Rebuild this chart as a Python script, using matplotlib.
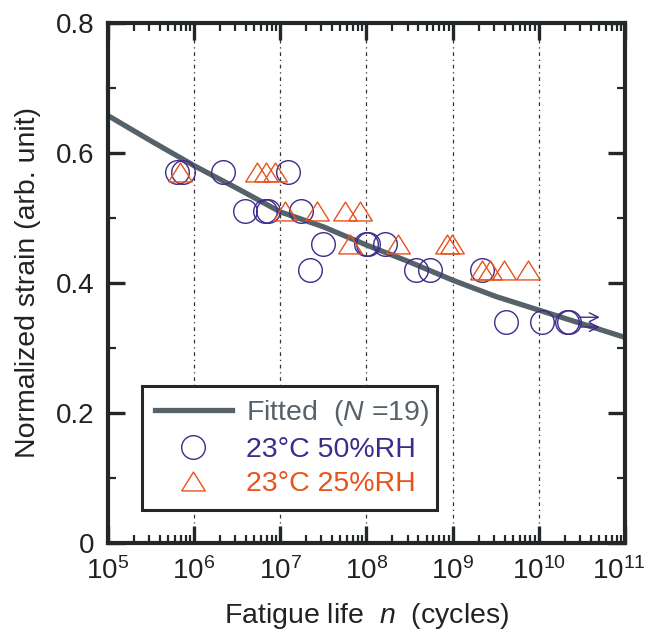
import numpy as np
import matplotlib
matplotlib.use("Agg")
import matplotlib.pyplot as plt
import matplotlib.transforms as mtransforms
from matplotlib.ticker import FuncFormatter, LogLocator, MultipleLocator, NullFormatter

plt.rcParams['font.family'] = ['Liberation Sans', 'DejaVu Sans']
plt.rcParams['mathtext.fontset'] = 'custom'
plt.rcParams['mathtext.rm'] = 'Liberation Sans'
plt.rcParams['mathtext.it'] = 'Liberation Sans:italic'

# fitted curve
fit_n = [1e5, 10**5.5, 1e6, 10**6.5, 1e7, 10**7.5, 1e8, 10**8.5, 1e9, 10**9.5, 1e10, 10**10.5, 1e11]
fit_s = [0.657, 0.618, 0.580, 0.545, 0.509, 0.486, 0.458, 0.432, 0.404, 0.379, 0.358, 0.337, 0.316]

# 23C 50%RH (circles)
rh50_n = [6.4e5, 7.4e5, 2.15e6, 1.22e7,
          3.9e6, 6.6e6, 7.3e6, 1.72e7,
          3.1e7, 9.8e7, 1.05e8, 1.65e8,
          2.24e7, 3.8e8, 5.4e8, 2.2e9,
          4.2e9, 1.08e10, 2.1e10, 2.24e10]
rh50_s = [0.57, 0.57, 0.57, 0.57,
          0.51, 0.51, 0.51, 0.51,
          0.46, 0.46, 0.46, 0.46,
          0.42, 0.42, 0.42, 0.42,
          0.34, 0.34, 0.34, 0.34]

# 23C 25%RH (triangles)
rh25_n = [6.8e5, 5.4e6, 6.9e6, 8.6e6,
          1.15e7, 2.65e7, 5.6e7, 8.4e7,
          6.5e7, 2.35e8, 8.5e8, 9.9e8,
          2.2e9, 2.7e9, 3.9e9, 7.4e9]
rh25_s = [0.57, 0.57, 0.57, 0.57,
          0.51, 0.51, 0.51, 0.51,
          0.46, 0.46, 0.46, 0.46,
          0.42, 0.42, 0.42, 0.42]

# run-out arrows
arrow_start = [3.0e10, 3.0e10]
arrow_end = [5.1e10, 5.1e10]
arrow_s = [0.347, 0.332]

fit_color = "#56626a"
purple = "#3f2a8c"
orange = "#e8531c"
dark = "#232729"

fig = plt.figure(figsize=(6.5, 6.34), dpi=100)
ax = fig.add_axes([0.166, 0.1435, 0.7955, 0.821])

ax.set_xscale("log")
ax.set_xlim(1e5, 1e11)
ax.set_ylim(0, 0.8)

for x in [1e6, 1e7, 1e8, 1e9, 1e10]:
    ax.axvline(x, color="#333333", lw=0.9, ls=(0, (3, 3, 1, 3)), zorder=1)

ax.plot(fit_n, fit_s, color=fit_color, lw=3.8, zorder=2,
        label="Fitted  ($N$ =19)")

ax.plot(rh50_n, rh50_s, ls="none", marker="o", ms=17, mfc="none",
        mec=purple, mew=1.0, zorder=3, label="23°C 50%RH")

tri = [(-1, -0.8), (1, -0.8), (0, 0.8), (-1, -0.8)]
ax.plot(rh25_n, rh25_s, ls="none", marker=tri, ms=17, mfc="none",
        mec=orange, mew=1.0, zorder=3, label="23°C 25%RH")

for x0, x1, y in zip(arrow_start, arrow_end, arrow_s):
    ax.annotate("", xy=(x1, y), xytext=(x0, y),
                arrowprops=dict(arrowstyle="->", color=purple, lw=1.0,
                                shrinkA=0, shrinkB=0, mutation_scale=16))

ax.xaxis.set_major_locator(LogLocator(base=10, numticks=10))
ax.xaxis.set_minor_locator(LogLocator(base=10, subs=np.arange(2, 10), numticks=20))
ax.xaxis.set_minor_formatter(NullFormatter())
ax.yaxis.set_major_locator(MultipleLocator(0.2))
ax.yaxis.set_minor_locator(MultipleLocator(0.1))
ax.yaxis.set_major_formatter(FuncFormatter(lambda v, p: "0" if abs(v) < 1e-9 else f"{v:.1f}"))

ax.tick_params(which="both", direction="in", top=True, right=True, colors=dark,
               labelcolor="#222222", labelsize=20)
ax.tick_params(which="major", length=12, width=2.4, pad=10)
ax.tick_params(which="minor", length=6, width=1.6)

for sp in ax.spines.values():
    sp.set_linewidth(3)
    sp.set_color(dark)

ax.set_xlabel("Fatigue life  $n$  (cycles)", fontsize=20.5, color="#222222", labelpad=12)
ax.set_ylabel("Normalized strain (arb. unit)", fontsize=20.5, color="#222222", labelpad=10)

leg = ax.legend(loc="lower left", bbox_to_anchor=(0.066, 0.063, 0.571, 0.26),
                mode="expand", fontsize=20.5, handlelength=2.7, handletextpad=0.5,
                labelspacing=0.3, borderpad=0.45, borderaxespad=0, fancybox=False,
                framealpha=1, labelcolor=[fit_color, purple, orange])
leg.get_frame().set_edgecolor(dark)
leg.get_frame().set_linewidth(2.2)

# nudge the 10^11 label so it stays inside the figure
fig.canvas.draw()
shift = mtransforms.ScaledTranslation(-6 / 100, 0, fig.dpi_scale_trans)
for tick in ax.xaxis.get_major_ticks():
    if np.isclose(tick.get_loc(), 1e11):
        tick.label1.set_transform(tick.label1.get_transform() + shift)

plt.savefig("out.png", dpi=100)
